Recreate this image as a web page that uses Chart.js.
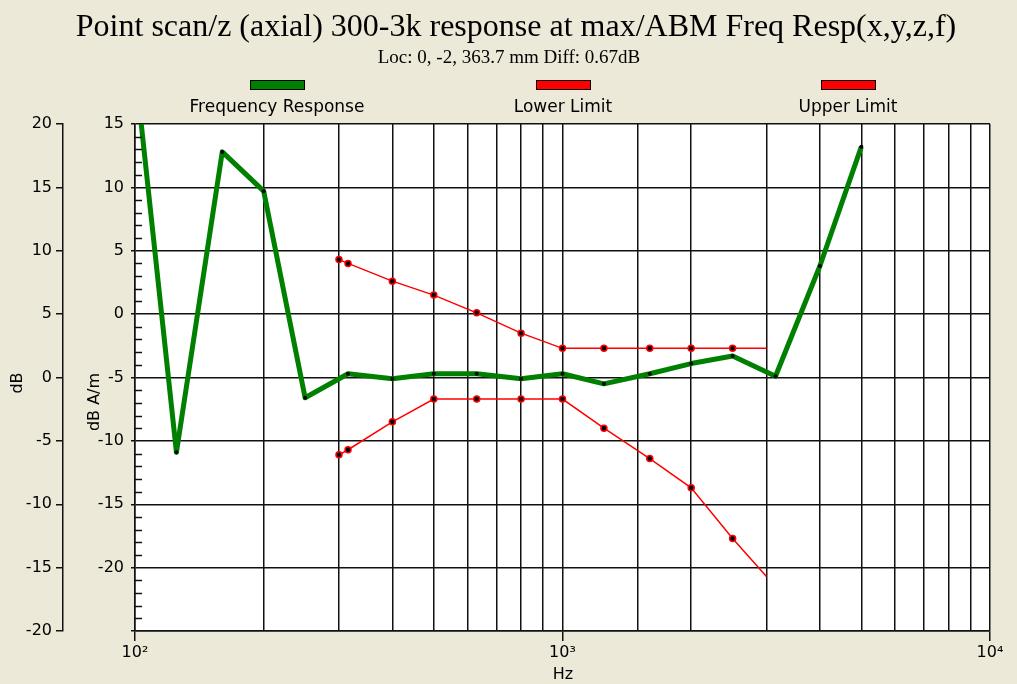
<!DOCTYPE html>
<html>
<head>
<meta charset="utf-8">
<script src="https://cdn.jsdelivr.net/npm/chart.js@4.4.1/dist/chart.umd.min.js"></script>
<style>
  html, body { margin: 0; padding: 0; background: #ece9d8; }
  #wrap { width: 1017px; height: 684px; position: relative; }
</style>
</head>
<body>
<div id="wrap"><canvas id="chart"></canvas></div>
<script>
const titleText = "Point scan/z (axial) 300-3k response at max/ABM Freq Resp(x,y,z,f)";
const subtitleText = "Loc: 0, -2, 363.7 mm Diff: 0.67dB";

const responseFreqs = [100, 125, 160, 200, 250, 315, 400, 500, 630, 800, 1000, 1250, 1600, 2000, 2500, 3150, 4000, 5000];
const responseDb = [19.6, -10.9, 12.8, 9.7, -6.6, -4.7, -5.1, -4.7, -4.7, -5.1, -4.7, -5.5, -4.7, -3.9, -3.3, -4.9, 3.8, 13.2];

const limitFreqs = [300, 315, 400, 500, 630, 800, 1000, 1250, 1600, 2000, 2500, 3000];
const lowerLimit = [-11.1, -10.7, -8.5, -6.7, -6.7, -6.7, -6.7, -9.0, -11.4, -13.7, -17.7, -20.7];
const upperLimit = [4.3, 4.0, 2.6, 1.5, 0.1, -1.5, -2.7, -2.7, -2.7, -2.7, -2.7, -2.7];

const decadeLabels = { 100: "10\u00b2", 1000: "10\u00b3", 10000: "10\u2074" };

const sans = "'DejaVu Sans', sans-serif";
const serif = "'Liberation Serif', 'Times New Roman', serif";

function toPoints(xs, ys) {
  return xs.map((x, i) => ({ x: x, y: ys[i] }));
}

function isDecade(v) {
  const l = Math.log10(v);
  return Math.abs(l - Math.round(l)) < 1e-6;
}

// last limit point has no marker
const limitRadius = limitFreqs.map((f, i) => (i === limitFreqs.length - 1 ? 0 : 3));

const decor = {
  id: "decor",
  beforeDraw(chart) {
    const { ctx, chartArea: a } = chart;
    ctx.save();
    ctx.fillStyle = "#ffffff";
    ctx.fillRect(a.left, a.top, a.right - a.left, a.bottom - a.top);
    ctx.restore();
  },
  afterDraw(chart) {
    const { ctx, chartArea: a } = chart;
    const y = chart.scales.y;
    ctx.save();

    // minor ticks every 1 dB inside the plot
    ctx.strokeStyle = "#111";
    ctx.lineWidth = 1.5;
    for (let v = -24; v < 15; v++) {
      if (v % 5 === 0) continue;
      const py = Math.round(y.getPixelForValue(v)) + 0.5;
      ctx.beginPath();
      ctx.moveTo(a.left, py);
      ctx.lineTo(a.left + 7, py);
      ctx.stroke();
    }

    // titles
    ctx.fillStyle = "#000";
    ctx.textAlign = "center";
    ctx.textBaseline = "alphabetic";
    ctx.font = "32px " + serif;
    ctx.fillText(titleText, 516, 36);
    ctx.font = "19px " + serif;
    ctx.fillText(subtitleText, 509, 63);

    // legend: box above, label below
    const items = [
      { ds: 0, cx: 277 },
      { ds: 1, cx: 563 },
      { ds: 2, cx: 848 }
    ];
    ctx.font = "17px " + sans;
    ctx.textBaseline = "middle";
    items.forEach((it) => {
      const ds = chart.data.datasets[it.ds];
      ctx.fillStyle = ds.borderColor;
      ctx.fillRect(it.cx - 27, 80, 54, 9);
      ctx.strokeStyle = "#000";
      ctx.lineWidth = 1;
      ctx.strokeRect(it.cx - 27 + 0.5, 80.5, 54, 9);
      ctx.fillStyle = "#000";
      ctx.fillText(ds.label, it.cx, 108);
    });

    // axis titles
    ctx.font = "16px " + sans;
    ctx.fillText("Hz", 563, 675);
    ctx.translate(18, 383);
    ctx.rotate(-Math.PI / 2);
    ctx.fillText("dB", 0, 0);
    ctx.rotate(Math.PI / 2);
    ctx.translate(95 - 18, 402 - 383);
    ctx.rotate(-Math.PI / 2);
    ctx.fillText("dB A/m", 0, 0);
    ctx.restore();
  }
};

new Chart(document.getElementById("chart"), {
  type: "line",
  data: {
    datasets: [
      {
        label: "Frequency Response",
        data: toPoints(responseFreqs, responseDb),
        yAxisID: "y",
        borderColor: "#008000",
        borderWidth: 5,
        borderJoinStyle: "round",
        pointRadius: 2,
        pointBackgroundColor: "#000",
        pointBorderWidth: 0,
        tension: 0,
        order: 2
      },
      {
        label: "Lower Limit",
        data: toPoints(limitFreqs, lowerLimit),
        yAxisID: "y",
        borderColor: "#ff0000",
        borderWidth: 1.5,
        pointRadius: limitRadius,
        pointBackgroundColor: "#000",
        pointBorderColor: "#ff0000",
        pointBorderWidth: 1.5,
        tension: 0,
        order: 1
      },
      {
        label: "Upper Limit",
        data: toPoints(limitFreqs, upperLimit),
        yAxisID: "y",
        borderColor: "#ff0000",
        borderWidth: 1.5,
        pointRadius: limitRadius,
        pointBackgroundColor: "#000",
        pointBorderColor: "#ff0000",
        pointBorderWidth: 1.5,
        tension: 0,
        order: 1
      }
    ]
  },
  options: {
    responsive: true,
    maintainAspectRatio: false,
    animation: false,
    layout: { padding: { top: 124, right: 27, left: 0, bottom: 0 } },
    plugins: {
      legend: { display: false },
      title: { display: false },
      tooltip: { enabled: false }
    },
    scales: {
      x: {
        type: "logarithmic",
        min: 100,
        max: 10000,
        afterFit(s) { s.height = 53; },
        grid: {
          color: "#111",
          lineWidth: 1.5,
          tickLength: 10,
          tickColor: (c) => (c.tick && isDecade(c.tick.value) ? "#111" : "rgba(0,0,0,0)")
        },
        border: { color: "#111", width: 1.5 },
        ticks: {
          autoSkip: false,
          maxRotation: 0,
          padding: 2,
          color: "#000",
          font: { family: sans, size: 16 },
          callback: (v) => (isDecade(v) ? decadeLabels[Math.round(v)] || "" : "")
        }
      },
      y: {
        type: "linear",
        position: "left",
        min: -25,
        max: 15,
        weight: 0,
        afterFit(s) { s.width = 72; },
        grid: { color: "#111", lineWidth: 1.5, tickLength: 4 },
        border: { color: "#111", width: 1.5 },
        ticks: {
          stepSize: 5,
          padding: 7,
          color: "#000",
          font: { family: sans, size: 16 },
          callback: (v) => (v === -25 ? "" : v)
        }
      },
      yOuter: {
        type: "linear",
        position: "left",
        min: -20,
        max: 20,
        weight: 1,
        afterFit(s) { s.width = 63; },
        grid: { drawOnChartArea: false, tickLength: 7, color: "#111", lineWidth: 1.5 },
        border: { color: "#111", width: 1.5 },
        ticks: {
          stepSize: 5,
          padding: 4,
          color: "#000",
          font: { family: sans, size: 16 }
        }
      }
    }
  },
  plugins: [decor]
});
</script>
</body>
</html>
